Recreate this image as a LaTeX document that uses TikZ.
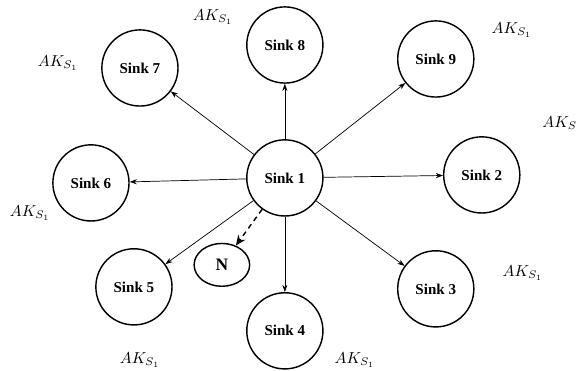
\documentclass[tikz,border=0pt]{standalone}
\usepackage{fontspec}
\newfontfamily\sinkfont{Liberation Serif}
\usetikzlibrary{arrows.meta,shapes.geometric}
\begin{document}
\begin{tikzpicture}[x=0.63pt,y=-0.63pt,
  sink/.style={circle, draw, line width=0.9pt, minimum size=48pt, inner sep=0pt,
    font=\sinkfont\bfseries\fontsize{9.5}{11}\selectfont},
  lbl/.style={inner sep=0pt, font=\normalsize},
  arr/.style={-{Stealth[length=4.5pt,width=3.2pt]}, line width=0.45pt},
  darr/.style={-{Stealth[length=6.5pt,width=5.5pt]}, line width=0.9pt, dash pattern=on 3.2pt off 2.6pt},
]
\fill[white] (0,0) rectangle (577,371);
\node[sink] (s1) at (285,178) {Sink 1};
\node[sink] (s2) at (482,175) {Sink 2};
\node[sink] (s3) at (436,289) {Sink 3};
\node[sink] (s4) at (285,331) {Sink 4};
\node[sink] (s5) at (134,287) {Sink 5};
\node[sink] (s6) at (91,183) {Sink 6};
\node[sink] (s7) at (140,68) {Sink 7};
\node[sink] (s8) at (285,45) {Sink 8};
\node[sink] (s9) at (436,59) {Sink 9};
\node[ellipse, draw, line width=0.9pt, minimum width=35pt, minimum height=27pt, inner sep=0pt,
  font=\sinkfont\bfseries\fontsize{11}{12}\selectfont] (n) at (222,265) {N};

\foreach \t in {s2,s3,s4,s5,s6,s7,s8,s9}
  \draw[arr] (s1) -- (\t);
\draw[darr] (s1) -- (n);

\node[lbl] (a1) at (213,17) {$AK_{S_1}$};
\node[lbl] (a2) at (512,30) {$AK_{S_1}$};
\node[lbl] (a3) at (560,123) {$AK_{S}$};
\node[lbl] (a4) at (58,63) {$AK_{S_1}$};
\node[lbl] (a5) at (30,213) {$AK_{S_1}$};
\node[lbl] (a6) at (523,273) {$AK_{S_1}$};
\node[lbl] (a7) at (140,360) {$AK_{S_1}$};
\node[lbl] (a8) at (355,360) {$AK_{S_1}$};
\end{tikzpicture}
\end{document}
